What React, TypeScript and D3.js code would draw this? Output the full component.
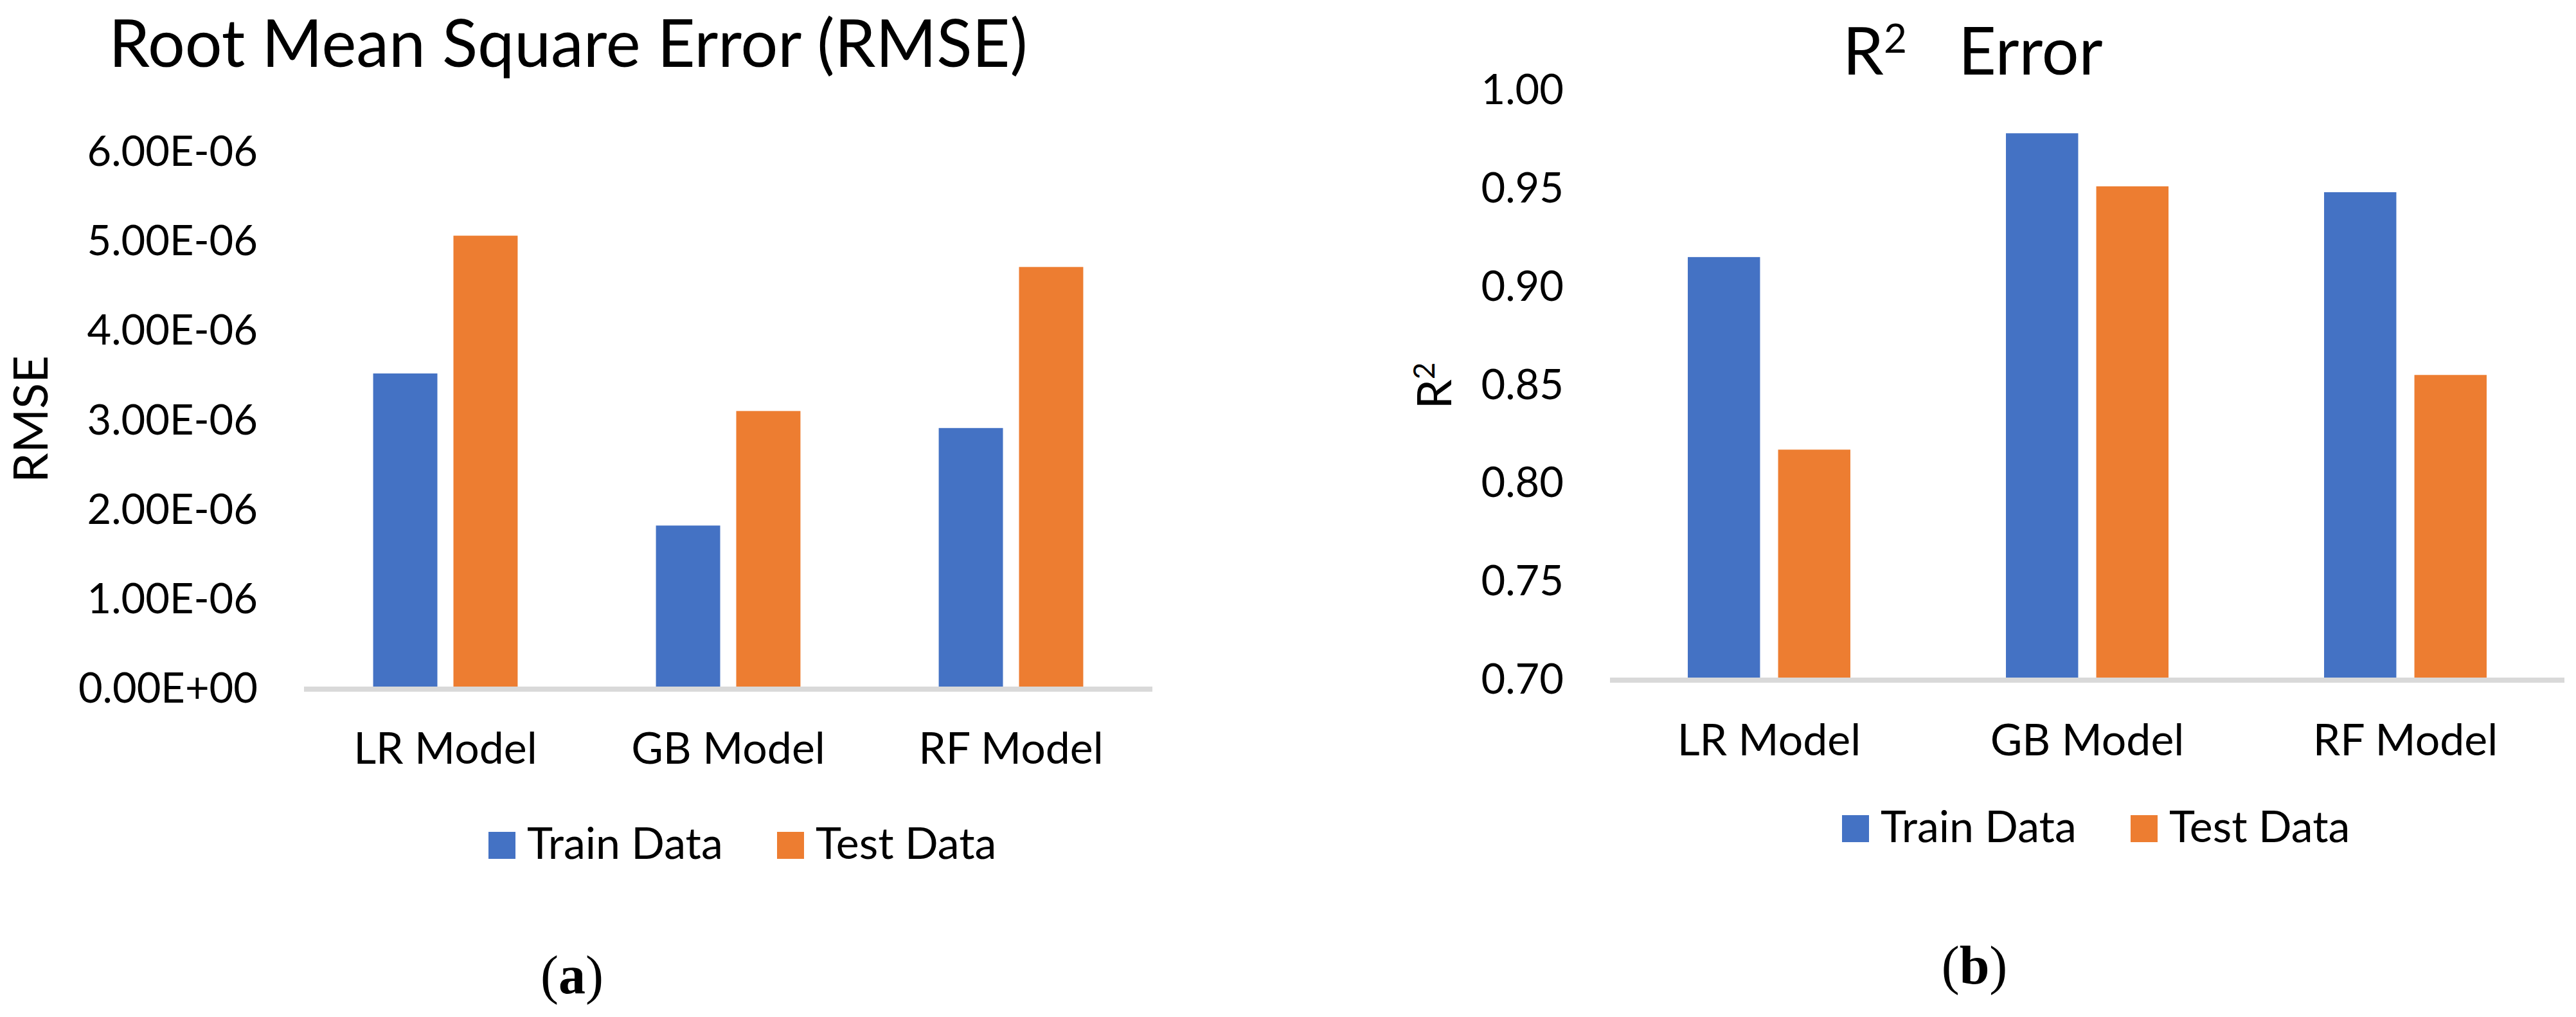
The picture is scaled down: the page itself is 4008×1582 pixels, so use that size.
import React from "react";
import * as d3 from "d3";

// ---------- data ----------
const categories = ["LR Model", "GB Model", "RF Model"];
const seriesNames = ["Train Data", "Test Data"];
const seriesColors = ["#4472C4", "#ED7D31"];

const rmseTrain = [3.5e-6, 1.8e-6, 2.89e-6];
const rmseTest = [5.04e-6, 3.08e-6, 4.69e-6];
const rmseTicks = [0, 1e-6, 2e-6, 3e-6, 4e-6, 5e-6, 6e-6];
const rmseTickLabels = ["0.00E+00", "1.00E-06", "2.00E-06", "3.00E-06", "4.00E-06", "5.00E-06", "6.00E-06"];

const r2Train = [0.914, 0.977, 0.947];
const r2Test = [0.816, 0.95, 0.854];
const r2Ticks = [0.7, 0.75, 0.8, 0.85, 0.9, 0.95, 1.0];
const r2TickLabels = ["0.70", "0.75", "0.80", "0.85", "0.90", "0.95", "1.00"];

const FONT = "Lato, 'Open Sans', sans-serif";
const TICK_FS = 65;
const CAT_FS = 68;
const TITLE_FS = 102;
const AXIS_TITLE_FS = 74;

type PanelProps = {
  train: number[];
  test: number[];
  ticks: number[];
  tickLabels: string[];
  domain: [number, number];
  x0: number;
  x1: number;
  yBase: number;
  yTop: number;
  tickRight: number;
  catBaseline: number;
  legendX: number[];
  legendY: number;
};

function Panel(p: PanelProps) {
  const x = d3.scaleBand<string>().domain(categories).range([p.x0, p.x1]).paddingInner(0).paddingOuter(0);
  const bw = x.bandwidth();
  const groupW = bw * 0.511;
  const inner = d3.scaleBand<string>().domain(seriesNames).range([-groupW / 2, groupW / 2]).paddingInner(0.2);
  const y = d3.scaleLinear().domain(p.domain).range([p.yBase, p.yTop]);
  const values = [p.train, p.test];
  const sq = 42;
  return (
    <g>
      {p.ticks.map((t, i) => (
        <text key={"t" + i} x={p.tickRight} y={y(t)} textAnchor="end" dominantBaseline="central" fontSize={TICK_FS} fill="#000">
          {p.tickLabels[i]}
        </text>
      ))}
      {categories.map((c, ci) =>
        seriesNames.map((s, si) => {
          const cx = (x(c) as number) + bw / 2;
          const v = values[si][ci];
          return (
            <rect
              key={c + s}
              x={cx + (inner(s) as number)}
              y={y(v)}
              width={inner.bandwidth()}
              height={p.yBase - y(v)}
              fill={seriesColors[si]}
            />
          );
        })
      )}
      <rect x={p.x0} y={p.yBase} width={p.x1 - p.x0} height={8} fill="#D9D9D9" />
      {categories.map((c) => (
        <text key={c} x={(x(c) as number) + bw / 2} y={p.catBaseline} textAnchor="middle" fontSize={CAT_FS} fill="#000">
          {c}
        </text>
      ))}
      {seriesNames.map((s, si) => (
        <g key={s}>
          <rect x={p.legendX[si]} y={p.legendY} width={sq} height={sq} fill={seriesColors[si]} />
          <text x={p.legendX[si] + sq + 18} y={p.legendY + sq} fontSize={CAT_FS} fill="#000">
            {s}
          </text>
        </g>
      ))}
    </g>
  );
}

export default function App() {
  const serif = "'Liberation Serif', 'Times New Roman', serif";
  return (
    <svg
      width={4008}
      height={1582}
      viewBox="0 0 4008 1582"
      style={{ position: "absolute", left: 0, top: 0, background: "#fff" }}
      fontFamily={FONT}
    >
      <rect x={0} y={0} width={4008} height={1582} fill="#fff" />
      {/* Left panel */}
      <text x={884} y={104} textAnchor="middle" fontSize={TITLE_FS} fill="#000">
        Root Mean Square Error (RMSE)
      </text>
      <text transform="translate(74,652) rotate(-90)" textAnchor="middle" fontSize={AXIS_TITLE_FS} fill="#000">
        RMSE
      </text>
      <Panel
        train={rmseTrain}
        test={rmseTest}
        ticks={rmseTicks}
        tickLabels={rmseTickLabels}
        domain={[0, 6e-6]}
        x0={473}
        x1={1793}
        yBase={1068}
        yTop={233}
        tickRight={401}
        catBaseline={1188}
        legendX={[760, 1209]}
        legendY={1294}
      />
      {/* Right panel */}
      <text x={2867} y={116} fontSize={TITLE_FS} fill="#000">
        R<tspan dy={-34} fontSize={62}>2</tspan>
        <tspan x={3047} y={116}>Error</tspan>
      </text>
      <text transform="translate(2258,600) rotate(-90)" textAnchor="middle" fontSize={AXIS_TITLE_FS} fill="#000">
        R<tspan dy={-26} fontSize={46}>2</tspan>
      </text>
      <Panel
        train={r2Train}
        test={r2Test}
        ticks={r2Ticks}
        tickLabels={r2TickLabels}
        domain={[0.7, 1.0]}
        x0={2505}
        x1={3990}
        yBase={1054}
        yTop={137}
        tickRight={2433}
        catBaseline={1175}
        legendX={[2866, 3315]}
        legendY={1268}
      />
      {/* captions */}
      <text x={890} y={1545} textAnchor="middle" fontSize={84} fontFamily={serif} fill="#000">
        (<tspan fontWeight="bold">a</tspan>)
      </text>
      <text x={3072} y={1530} textAnchor="middle" fontSize={84} fontFamily={serif} fill="#000">
        (<tspan fontWeight="bold">b</tspan>)
      </text>
    </svg>
  );
}
